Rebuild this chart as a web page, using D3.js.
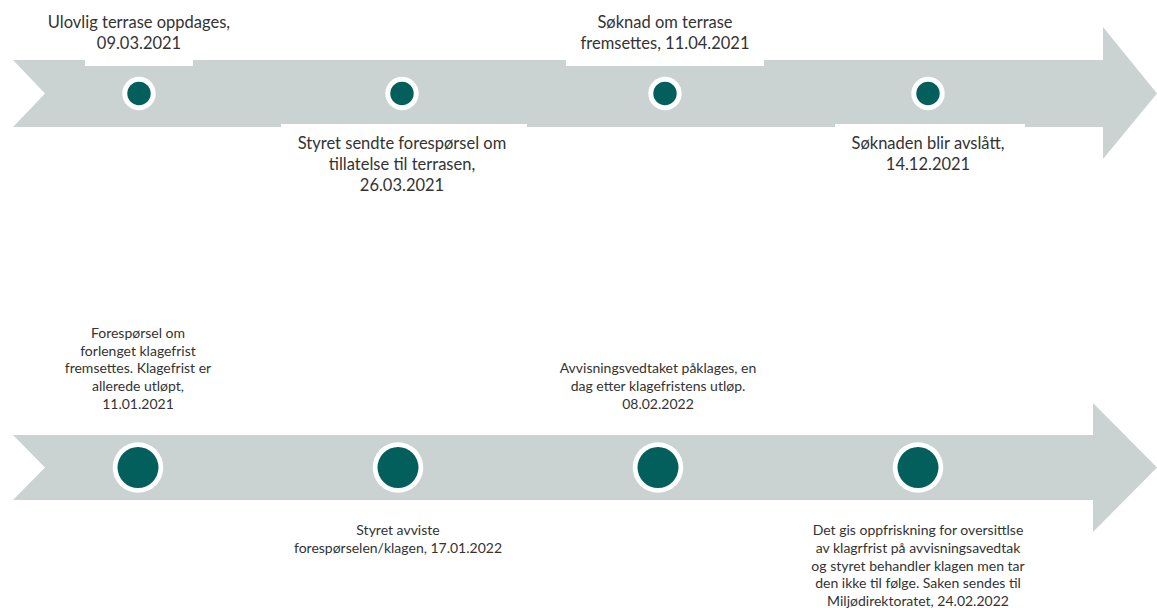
<!DOCTYPE html>
<html>
<head>
<meta charset="utf-8">
<script src="https://cdn.jsdelivr.net/npm/d3@7"></script>
<style>
  html, body { margin: 0; padding: 0; background: #ffffff; }
  svg { display: block; }
  text { font-family: Lato, "Open Sans", sans-serif; fill: #333333; }
</style>
</head>
<body>
<div id="chart"></div>
<script>
// ---------- data ----------
const topSlots = [0, 1, 2, 3];
const topSides = ["above", "below", "above", "below"];
const topLabels = [
  ["Ulovlig terrase oppdages,", "09.03.2021"],
  ["Styret sendte forespørsel om", "tillatelse til terrasen,", "26.03.2021"],
  ["Søknad om terrase", "fremsettes, 11.04.2021"],
  ["Søknaden blir avslått,", "14.12.2021"]
];

const bottomSlots = [0, 1, 2, 3];
const bottomSides = ["above", "below", "above", "below"];
const bottomLabels = [
  ["Forespørsel om", "forlenget klagefrist", "fremsettes. Klagefrist er", "allerede utløpt,", "11.01.2021"],
  ["Styret avviste", "forespørselen/klagen, 17.01.2022"],
  ["Avvisningsvedtaket påklages, en", "dag etter klagefristens utløp.", "08.02.2022"],
  ["Det gis oppfriskning for oversittlse", "av klagrfrist på avvisningsavedtak", "og styret behandler klagen men tar", "den ikke til følge. Saken sendes til", "Miljødirektoratet, 24.02.2022"]
];

// ---------- layout ----------
const W = 1157, H = 608;
const svg = d3.select("#chart").append("svg").attr("width", W).attr("height", H);

const arrowColor = "#cad3d1";
const dotColor = "#025f5b";
const topBoxWidths = [108, 246, 198, 190];   // white label backdrops (layout)
const topBoxShift = [0, 2, 0, 2];

const rows = [
  {
    slots: topSlots, sides: topSides, labels: topLabels,
    x: d3.scaleLinear().domain([0, 3]).range([139, 928]),
    cy: 93.5, bodyTop: 60, bodyBot: 127, headStart: 1103, headTop: 27, headBot: 159,
    rOuter: 16.7, rInner: 11.7,
    fontSize: 16.5, lineH: 21, aboveLast: 49, belowFirst: 149,
    boxes: true
  },
  {
    slots: bottomSlots, sides: bottomSides, labels: bottomLabels,
    x: d3.scaleLinear().domain([0, 3]).range([138, 918]),
    cy: 467.5, bodyTop: 435, bodyBot: 500, headStart: 1093, headTop: 403, headBot: 532,
    rOuter: 25.3, rInner: 20.5,
    fontSize: 14, lineH: 17.8, aboveLast: 409, belowFirst: 535,
    boxes: false
  }
];

rows.forEach(row => {
  const g = svg.append("g");
  const left = 13, notch = 45, tip = W;
  const pts = [
    [left, row.bodyTop], [row.headStart, row.bodyTop], [row.headStart, row.headTop],
    [tip, row.cy], [row.headStart, row.headBot], [row.headStart, row.bodyBot],
    [left, row.bodyBot], [notch, row.cy]
  ];
  g.append("path")
    .attr("d", d3.line()(pts) + "Z")
    .attr("fill", arrowColor);

  const items = row.slots.map((s, i) => ({ slot: s, side: row.sides[i], lines: row.labels[i], i }));

  const tg = g.selectAll("g.lbl").data(items).join("g").attr("class", "lbl");
  tg.each(function(d) {
    const sel = d3.select(this);
    const cx = row.x(d.slot);
    const n = d.lines.length;
    const ys = d.lines.map((_, k) => d.side === "above"
      ? row.aboveLast - (n - 1 - k) * row.lineH
      : row.belowFirst + k * row.lineH);
    if (row.boxes) {
      const bw = topBoxWidths[d.i];
      const bx = cx + topBoxShift[d.i] - bw / 2;
      if (d.side === "above") {
        sel.append("rect").attr("x", bx).attr("y", 0).attr("width", bw)
          .attr("height", row.bodyTop + 6).attr("fill", "#ffffff");
      } else {
        sel.append("rect").attr("x", bx).attr("y", row.bodyBot - 3).attr("width", bw)
          .attr("height", 80).attr("fill", "#ffffff");
      }
    }
    d.lines.forEach((t, k) => sel.append("text")
      .attr("x", cx).attr("y", ys[k]).attr("text-anchor", "middle")
      .attr("font-size", row.fontSize).text(t));
  });

  g.selectAll("circle.outer").data(items).join("circle")
    .attr("class", "outer")
    .attr("cx", d => row.x(d.slot)).attr("cy", row.cy)
    .attr("r", row.rOuter).attr("fill", "#ffffff");
  g.selectAll("circle.inner").data(items).join("circle")
    .attr("class", "inner")
    .attr("cx", d => row.x(d.slot)).attr("cy", row.cy)
    .attr("r", row.rInner).attr("fill", dotColor);
});
</script>
</body>
</html>
